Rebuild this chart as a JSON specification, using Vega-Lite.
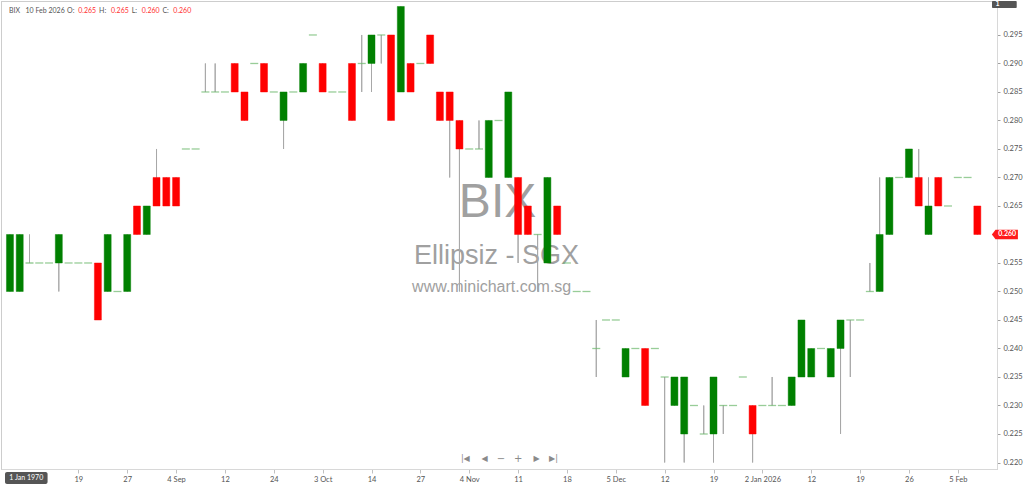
{
  "$schema": "https://vega.github.io/schema/vega-lite/v6.json",
  "width": 996,
  "height": 468,
  "autosize": "none",
  "padding": {"left": 1, "top": 1, "right": 27, "bottom": 15},
  "background": "white",
  "datasets": {
    "bix": [
      {"i": 1, "o": 0.25, "h": 0.26, "l": 0.25, "c": 0.26},
      {"i": 2, "o": 0.25, "h": 0.26, "l": 0.25, "c": 0.26},
      {"i": 3, "o": 0.255, "h": 0.26, "l": 0.255, "c": 0.255},
      {"i": 4, "o": 0.255, "h": 0.255, "l": 0.255, "c": 0.255},
      {"i": 5, "o": 0.255, "h": 0.255, "l": 0.255, "c": 0.255},
      {"i": 6, "o": 0.255, "h": 0.26, "l": 0.25, "c": 0.26},
      {"i": 7, "o": 0.255, "h": 0.255, "l": 0.255, "c": 0.255},
      {"i": 8, "o": 0.255, "h": 0.255, "l": 0.255, "c": 0.255},
      {"i": 9, "o": 0.255, "h": 0.255, "l": 0.255, "c": 0.255},
      {"i": 10, "o": 0.255, "h": 0.255, "l": 0.245, "c": 0.245},
      {"i": 11, "o": 0.25, "h": 0.26, "l": 0.25, "c": 0.26},
      {"i": 12, "o": 0.25, "h": 0.25, "l": 0.25, "c": 0.25},
      {"i": 13, "o": 0.25, "h": 0.26, "l": 0.25, "c": 0.26},
      {"i": 14, "o": 0.265, "h": 0.265, "l": 0.26, "c": 0.26},
      {"i": 15, "o": 0.26, "h": 0.265, "l": 0.26, "c": 0.265},
      {"i": 16, "o": 0.27, "h": 0.275, "l": 0.265, "c": 0.265},
      {"i": 17, "o": 0.27, "h": 0.27, "l": 0.265, "c": 0.265},
      {"i": 18, "o": 0.27, "h": 0.27, "l": 0.265, "c": 0.265},
      {"i": 19, "o": 0.275, "h": 0.275, "l": 0.275, "c": 0.275},
      {"i": 20, "o": 0.275, "h": 0.275, "l": 0.275, "c": 0.275},
      {"i": 21, "o": 0.285, "h": 0.29, "l": 0.285, "c": 0.285},
      {"i": 22, "o": 0.285, "h": 0.29, "l": 0.285, "c": 0.285},
      {"i": 23, "o": 0.285, "h": 0.285, "l": 0.285, "c": 0.285},
      {"i": 24, "o": 0.29, "h": 0.29, "l": 0.285, "c": 0.285},
      {"i": 25, "o": 0.285, "h": 0.285, "l": 0.28, "c": 0.28},
      {"i": 26, "o": 0.29, "h": 0.29, "l": 0.29, "c": 0.29},
      {"i": 27, "o": 0.29, "h": 0.29, "l": 0.285, "c": 0.285},
      {"i": 28, "o": 0.285, "h": 0.285, "l": 0.285, "c": 0.285},
      {"i": 29, "o": 0.28, "h": 0.285, "l": 0.275, "c": 0.285},
      {"i": 30, "o": 0.285, "h": 0.285, "l": 0.285, "c": 0.285},
      {"i": 31, "o": 0.285, "h": 0.29, "l": 0.285, "c": 0.29},
      {"i": 32, "o": 0.295, "h": 0.295, "l": 0.295, "c": 0.295},
      {"i": 33, "o": 0.29, "h": 0.29, "l": 0.285, "c": 0.285},
      {"i": 34, "o": 0.285, "h": 0.285, "l": 0.285, "c": 0.285},
      {"i": 35, "o": 0.285, "h": 0.285, "l": 0.285, "c": 0.285},
      {"i": 36, "o": 0.29, "h": 0.29, "l": 0.28, "c": 0.28},
      {"i": 37, "o": 0.29, "h": 0.295, "l": 0.285, "c": 0.29},
      {"i": 38, "o": 0.29, "h": 0.295, "l": 0.285, "c": 0.295},
      {"i": 39, "o": 0.295, "h": 0.295, "l": 0.29, "c": 0.295},
      {"i": 40, "o": 0.295, "h": 0.295, "l": 0.28, "c": 0.28},
      {"i": 41, "o": 0.285, "h": 0.3, "l": 0.285, "c": 0.3},
      {"i": 42, "o": 0.29, "h": 0.29, "l": 0.285, "c": 0.285},
      {"i": 43, "o": 0.29, "h": 0.29, "l": 0.29, "c": 0.29},
      {"i": 44, "o": 0.295, "h": 0.295, "l": 0.29, "c": 0.29},
      {"i": 45, "o": 0.285, "h": 0.285, "l": 0.28, "c": 0.28},
      {"i": 46, "o": 0.285, "h": 0.285, "l": 0.27, "c": 0.28},
      {"i": 47, "o": 0.28, "h": 0.28, "l": 0.25, "c": 0.275},
      {"i": 48, "o": 0.275, "h": 0.275, "l": 0.275, "c": 0.275},
      {"i": 49, "o": 0.275, "h": 0.28, "l": 0.275, "c": 0.275},
      {"i": 50, "o": 0.27, "h": 0.28, "l": 0.27, "c": 0.28},
      {"i": 51, "o": 0.28, "h": 0.28, "l": 0.28, "c": 0.28},
      {"i": 52, "o": 0.27, "h": 0.285, "l": 0.27, "c": 0.285},
      {"i": 53, "o": 0.27, "h": 0.27, "l": 0.255, "c": 0.26},
      {"i": 54, "o": 0.265, "h": 0.265, "l": 0.26, "c": 0.26},
      {"i": 55, "o": 0.26, "h": 0.26, "l": 0.25, "c": 0.26},
      {"i": 56, "o": 0.255, "h": 0.27, "l": 0.255, "c": 0.27},
      {"i": 57, "o": 0.265, "h": 0.265, "l": 0.26, "c": 0.26},
      {"i": 58, "o": 0.255, "h": 0.255, "l": 0.255, "c": 0.255},
      {"i": 59, "o": 0.25, "h": 0.25, "l": 0.25, "c": 0.25},
      {"i": 60, "o": 0.25, "h": 0.25, "l": 0.25, "c": 0.25},
      {"i": 61, "o": 0.24, "h": 0.245, "l": 0.235, "c": 0.24},
      {"i": 62, "o": 0.245, "h": 0.245, "l": 0.245, "c": 0.245},
      {"i": 63, "o": 0.245, "h": 0.245, "l": 0.245, "c": 0.245},
      {"i": 64, "o": 0.235, "h": 0.24, "l": 0.235, "c": 0.24},
      {"i": 65, "o": 0.24, "h": 0.24, "l": 0.24, "c": 0.24},
      {"i": 66, "o": 0.24, "h": 0.24, "l": 0.23, "c": 0.23},
      {"i": 67, "o": 0.24, "h": 0.24, "l": 0.24, "c": 0.24},
      {"i": 68, "o": 0.235, "h": 0.235, "l": 0.22, "c": 0.235},
      {"i": 69, "o": 0.23, "h": 0.235, "l": 0.23, "c": 0.235},
      {"i": 70, "o": 0.225, "h": 0.235, "l": 0.22, "c": 0.235},
      {"i": 71, "o": 0.23, "h": 0.23, "l": 0.23, "c": 0.23},
      {"i": 72, "o": 0.225, "h": 0.23, "l": 0.225, "c": 0.225},
      {"i": 73, "o": 0.225, "h": 0.235, "l": 0.22, "c": 0.235},
      {"i": 74, "o": 0.23, "h": 0.23, "l": 0.225, "c": 0.23},
      {"i": 75, "o": 0.23, "h": 0.23, "l": 0.23, "c": 0.23},
      {"i": 76, "o": 0.235, "h": 0.235, "l": 0.235, "c": 0.235},
      {"i": 77, "o": 0.23, "h": 0.23, "l": 0.22, "c": 0.225},
      {"i": 78, "o": 0.23, "h": 0.23, "l": 0.23, "c": 0.23},
      {"i": 79, "o": 0.23, "h": 0.235, "l": 0.23, "c": 0.23},
      {"i": 80, "o": 0.23, "h": 0.23, "l": 0.23, "c": 0.23},
      {"i": 81, "o": 0.23, "h": 0.235, "l": 0.23, "c": 0.235},
      {"i": 82, "o": 0.235, "h": 0.245, "l": 0.235, "c": 0.245},
      {"i": 83, "o": 0.235, "h": 0.24, "l": 0.235, "c": 0.24},
      {"i": 84, "o": 0.24, "h": 0.24, "l": 0.24, "c": 0.24},
      {"i": 85, "o": 0.235, "h": 0.24, "l": 0.235, "c": 0.24},
      {"i": 86, "o": 0.24, "h": 0.245, "l": 0.225, "c": 0.245},
      {"i": 87, "o": 0.245, "h": 0.245, "l": 0.235, "c": 0.245},
      {"i": 88, "o": 0.245, "h": 0.245, "l": 0.245, "c": 0.245},
      {"i": 89, "o": 0.25, "h": 0.255, "l": 0.25, "c": 0.25},
      {"i": 90, "o": 0.25, "h": 0.27, "l": 0.25, "c": 0.26},
      {"i": 91, "o": 0.26, "h": 0.27, "l": 0.26, "c": 0.27},
      {"i": 92, "o": 0.27, "h": 0.27, "l": 0.27, "c": 0.27},
      {"i": 93, "o": 0.27, "h": 0.275, "l": 0.27, "c": 0.275},
      {"i": 94, "o": 0.27, "h": 0.275, "l": 0.265, "c": 0.265},
      {"i": 95, "o": 0.26, "h": 0.27, "l": 0.26, "c": 0.265},
      {"i": 96, "o": 0.27, "h": 0.27, "l": 0.265, "c": 0.265},
      {"i": 97, "o": 0.265, "h": 0.265, "l": 0.265, "c": 0.265},
      {"i": 98, "o": 0.27, "h": 0.27, "l": 0.27, "c": 0.27},
      {"i": 99, "o": 0.27, "h": 0.27, "l": 0.27, "c": 0.27},
      {"i": 100, "o": 0.265, "h": 0.265, "l": 0.26, "c": 0.26}
    ]
  },
  "layer": [
    {
      "data": {"name": "bix"},
      "mark": {"type": "rule", "color": "#a8a8a8", "strokeWidth": 1},
      "encoding": {
        "x": {
          "field": "i",
          "type": "quantitative",
          "title": null,
          "scale": {"domain": [0.595, 101.5], "nice": false, "zero": false},
          "axis": {
            "orient": "bottom",
            "values": [8, 13, 18, 23, 28, 33, 38, 43, 48, 53, 58, 63, 68, 73, 78, 83, 88, 93, 98],
            "labelExpr": "{'8':'19','13':'27','18':'4 Sep','23':'12','28':'24','33':'3 Oct','38':'14','43':'27','48':'4 Nov','53':'11','58':'18','63':'5 Dec','68':'12','73':'19','78':'2 Jan 2026','83':'12','88':'19','93':'26','98':'5 Feb'}['' + datum.value]",
            "grid": false,
            "domainColor": "#d8d8d8",
            "tickColor": "#c0c0c0",
            "tickSize": 4,
            "labelFont": "Lato",
            "labelFontSize": 7.5,
            "labelColor": "#555555",
            "labelPadding": 2,
            "labelFlush": false,
            "labelOverlap": false
          }
        },
        "y": {
          "field": "l",
          "type": "quantitative",
          "title": null,
          "scale": {"domain": [0.21886, 0.30096], "nice": false, "zero": false},
          "axis": {
            "orient": "right",
            "tickCount": 16,
            "labelExpr": "(abs(datum.value - 0.26) < 0.001 || datum.value > 0.298) ? '' : format(datum.value, '.3f')",
            "grid": false,
            "domainColor": "#d8d8d8",
            "tickColor": "#a0a0a0",
            "tickSize": 3,
            "labelFont": "Lato",
            "labelFontSize": 7.5,
            "labelColor": "#555555",
            "labelPadding": 3,
            "labelOverlap": false,
            "labelSeparation": 0
          }
        },
        "y2": {"field": "h"}
      }
    },
    {
      "data": {"values": [{}]},
      "mark": {"type": "text", "font": "Liberation Sans", "fontSize": 48, "color": "#a0a0a0", "align": "center", "baseline": "alphabetic"},
      "encoding": {
        "x": {"datum": 50.9, "type": "quantitative"},
        "y": {"datum": 0.26307, "type": "quantitative"},
        "text": {"value": "BIX"}
      }
    },
    {
      "data": {"values": [{}]},
      "mark": {"type": "text", "font": "Liberation Sans", "fontSize": 27, "color": "#a0a0a0", "align": "center", "baseline": "alphabetic"},
      "encoding": {
        "x": {"datum": 50.8, "type": "quantitative"},
        "y": {"datum": 0.25483, "type": "quantitative"},
        "text": {"value": "Ellipsiz - SGX"}
      }
    },
    {
      "data": {"values": [{}]},
      "mark": {"type": "text", "font": "Liberation Sans", "fontSize": 16, "color": "#a0a0a0", "align": "center", "baseline": "alphabetic"},
      "encoding": {
        "x": {"datum": 50.3, "type": "quantitative"},
        "y": {"datum": 0.24991, "type": "quantitative"},
        "text": {"value": "www.minichart.com.sg"}
      }
    },
    {
      "data": {"name": "bix"},
      "mark": {"type": "rule", "color": "#a8a8a8", "strokeWidth": 1},
      "encoding": {
        "x": {"field": "i", "type": "quantitative"},
        "y": {"field": "l", "type": "quantitative"},
        "y2": {"field": "h"}
      }
    },
    {
      "data": {"name": "bix"},
      "transform": [{"filter": "datum.o != datum.c"}],
      "mark": {"type": "bar", "size": 7, "strokeWidth": 1, "strokeOpacity": 0.45},
      "encoding": {
        "x": {"field": "i", "type": "quantitative"},
        "y": {"field": "o", "type": "quantitative"},
        "y2": {"field": "c"},
        "color": {"condition": {"test": "datum.c > datum.o", "value": "#008000"}, "value": "#ff0000"},
        "stroke": {"condition": {"test": "datum.c > datum.o", "value": "#008000"}, "value": "#ff0000"}
      }
    },
    {
      "data": {"name": "bix"},
      "transform": [{"filter": "datum.o == datum.c"}],
      "mark": {"type": "tick", "orient": "horizontal", "size": 8, "thickness": 1.3, "color": "#6cb86c"},
      "encoding": {
        "x": {"field": "i", "type": "quantitative"},
        "y": {"field": "o", "type": "quantitative"}
      }
    },
    {
      "data": {"values": [{}]},
      "layer": [
        {"mark": {"type": "text", "font": "Lato", "fontSize": 7, "color": "#555555", "align": "left", "baseline": "middle"},
         "encoding": {"x": {"datum": 0.9, "type": "quantitative"}, "y": {"datum": 0.29926, "type": "quantitative"}, "text": {"value": "BIX"}}},
        {"mark": {"type": "text", "font": "Lato", "fontSize": 7, "color": "#555555", "align": "left", "baseline": "middle"},
         "encoding": {"x": {"datum": 2.59, "type": "quantitative"}, "y": {"datum": 0.29926, "type": "quantitative"}, "text": {"value": "10 Feb 2026"}}},
        {"mark": {"type": "text", "font": "Lato", "fontSize": 7, "color": "#555555", "align": "left", "baseline": "middle"},
         "encoding": {"x": {"datum": 6.85, "type": "quantitative"}, "y": {"datum": 0.29926, "type": "quantitative"}, "text": {"value": "O:"}}},
        {"mark": {"type": "text", "font": "Lato", "fontSize": 7, "color": "#ff3030", "align": "left", "baseline": "middle"},
         "encoding": {"x": {"datum": 7.99, "type": "quantitative"}, "y": {"datum": 0.29926, "type": "quantitative"}, "text": {"value": "0.265"}}},
        {"mark": {"type": "text", "font": "Lato", "fontSize": 7, "color": "#555555", "align": "left", "baseline": "middle"},
         "encoding": {"x": {"datum": 10.12, "type": "quantitative"}, "y": {"datum": 0.29926, "type": "quantitative"}, "text": {"value": "H:"}}},
        {"mark": {"type": "text", "font": "Lato", "fontSize": 7, "color": "#ff3030", "align": "left", "baseline": "middle"},
         "encoding": {"x": {"datum": 11.33, "type": "quantitative"}, "y": {"datum": 0.29926, "type": "quantitative"}, "text": {"value": "0.265"}}},
        {"mark": {"type": "text", "font": "Lato", "fontSize": 7, "color": "#555555", "align": "left", "baseline": "middle"},
         "encoding": {"x": {"datum": 13.46, "type": "quantitative"}, "y": {"datum": 0.29926, "type": "quantitative"}, "text": {"value": "L:"}}},
        {"mark": {"type": "text", "font": "Lato", "fontSize": 7, "color": "#ff3030", "align": "left", "baseline": "middle"},
         "encoding": {"x": {"datum": 14.48, "type": "quantitative"}, "y": {"datum": 0.29926, "type": "quantitative"}, "text": {"value": "0.260"}}},
        {"mark": {"type": "text", "font": "Lato", "fontSize": 7, "color": "#555555", "align": "left", "baseline": "middle"},
         "encoding": {"x": {"datum": 16.6, "type": "quantitative"}, "y": {"datum": 0.29926, "type": "quantitative"}, "text": {"value": "C:"}}},
        {"mark": {"type": "text", "font": "Lato", "fontSize": 7, "color": "#ff3030", "align": "left", "baseline": "middle"},
         "encoding": {"x": {"datum": 17.72, "type": "quantitative"}, "y": {"datum": 0.29926, "type": "quantitative"}, "text": {"value": "0.260"}}},
        {"mark": {"type": "text", "font": "DejaVu Sans", "fontSize": 8, "color": "#8a8a8a", "align": "center", "baseline": "middle"},
         "encoding": {"x": {"datum": 47.6, "type": "quantitative"}, "y": {"datum": 0.22062, "type": "quantitative"}, "text": {"value": "|◀"}}},
        {"mark": {"type": "text", "font": "DejaVu Sans", "fontSize": 8, "color": "#8a8a8a", "align": "center", "baseline": "middle"},
         "encoding": {"x": {"datum": 49.58, "type": "quantitative"}, "y": {"datum": 0.22062, "type": "quantitative"}, "text": {"value": "◀"}}},
        {"mark": {"type": "text", "font": "DejaVu Sans", "fontSize": 10, "color": "#8a8a8a", "align": "center", "baseline": "middle"},
         "encoding": {"x": {"datum": 51.25, "type": "quantitative"}, "y": {"datum": 0.22062, "type": "quantitative"}, "text": {"value": "−"}}},
        {"mark": {"type": "text", "font": "DejaVu Sans", "fontSize": 10, "color": "#8a8a8a", "align": "center", "baseline": "middle"},
         "encoding": {"x": {"datum": 53.02, "type": "quantitative"}, "y": {"datum": 0.22062, "type": "quantitative"}, "text": {"value": "+"}}},
        {"mark": {"type": "text", "font": "DejaVu Sans", "fontSize": 8, "color": "#8a8a8a", "align": "center", "baseline": "middle"},
         "encoding": {"x": {"datum": 54.9, "type": "quantitative"}, "y": {"datum": 0.22062, "type": "quantitative"}, "text": {"value": "▶"}}},
        {"mark": {"type": "text", "font": "DejaVu Sans", "fontSize": 8, "color": "#8a8a8a", "align": "center", "baseline": "middle"},
         "encoding": {"x": {"datum": 56.62, "type": "quantitative"}, "y": {"datum": 0.22062, "type": "quantitative"}, "text": {"value": "▶|"}}},
        {"mark": {"type": "rect", "color": "#555555", "cornerRadius": 1},
         "encoding": {"x": {"datum": 101.5, "type": "quantitative"}, "x2": {"datum": 104.03}, "y": {"datum": 0.30096, "type": "quantitative"}, "y2": {"datum": 0.29974}}},
        {"mark": {"type": "text", "font": "Lato", "fontSize": 7, "fontWeight": "bold", "color": "white", "align": "left", "baseline": "middle"},
         "encoding": {"x": {"datum": 101.85, "type": "quantitative"}, "y": {"datum": 0.30035, "type": "quantitative"}, "text": {"value": "1"}}},
        {"mark": {"type": "point", "shape": "M-1,0L-0.72,-0.36L1,-0.36L1,0.36L-0.72,0.36Z", "filled": true, "opacity": 1, "size": 676, "color": "#ff1a1a"},
         "encoding": {"x": {"datum": 102.82, "type": "quantitative"}, "y": {"datum": 0.26, "type": "quantitative"}}},
        {"mark": {"type": "text", "font": "Lato", "fontSize": 7, "fontWeight": "bold", "color": "white", "align": "center", "baseline": "middle"},
         "encoding": {"x": {"datum": 103.05, "type": "quantitative"}, "y": {"datum": 0.26, "type": "quantitative"}, "text": {"value": "0.260"}}},
        {"mark": {"type": "rect", "color": "#555555", "cornerRadius": 2},
         "encoding": {"x": {"datum": 0.493, "type": "quantitative"}, "x2": {"datum": 4.85}, "y": {"datum": 0.21833, "type": "quantitative"}, "y2": {"datum": 0.21623}}},
        {"mark": {"type": "text", "font": "Lato", "fontSize": 7, "color": "white", "align": "center", "baseline": "middle"},
         "encoding": {"x": {"datum": 2.67, "type": "quantitative"}, "y": {"datum": 0.21728, "type": "quantitative"}, "text": {"value": "1 Jan 1970"}}}
      ]
    }
  ],
  "config": {
    "view": {"stroke": "#9a9a9a", "strokeDash": [1, 1], "strokeWidth": 1},
    "font": "Lato",
    "axis": {"labelOverlap": false}
  }
}
